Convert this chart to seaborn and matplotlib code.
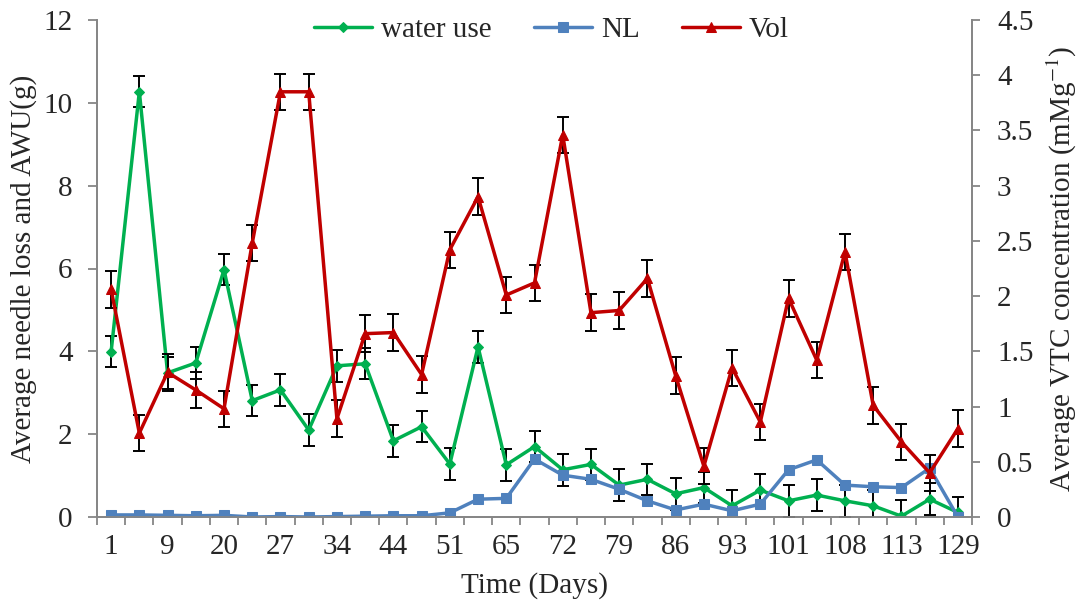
import numpy as np
import pandas as pd
import matplotlib
matplotlib.use("Agg")
import matplotlib.pyplot as plt
from matplotlib.ticker import FixedLocator, FuncFormatter
import seaborn as sns

# sampling days (one label every second sample)
day_labels = ["1", "9", "20", "27", "34", "44", "51", "65", "72", "79",
              "86", "93", "101", "108", "113", "129"]

water_use = [3.99, 10.27, 3.48, 3.72, 5.97, 2.81, 3.07, 2.10, 3.65, 3.70,
             1.84, 2.18, 1.28, 4.11, 1.26, 1.70, 1.14, 1.27, 0.77, 0.91,
             0.56, 0.71, 0.27, 0.65, 0.39, 0.53, 0.39, 0.27, 0.02, 0.43, 0.11]
water_err = [0.38] * 31

nl = [0.05, 0.05, 0.04, 0.03, 0.04, 0.00, 0.01, 0.00, 0.01, 0.02,
      0.03, 0.03, 0.10, 0.43, 0.45, 1.40, 1.01, 0.91, 0.67, 0.39,
      0.17, 0.31, 0.15, 0.31, 1.14, 1.38, 0.77, 0.73, 0.71, 1.18, 0.00]

vol = [2.06, 0.76, 1.31, 1.15, 0.98, 2.48, 3.85, 3.85, 0.89, 1.66,
       1.67, 1.29, 2.42, 2.90, 2.01, 2.12, 3.46, 1.85, 1.87, 2.16,
       1.28, 0.46, 1.35, 0.86, 1.98, 1.42, 2.40, 1.01, 0.68, 0.40, 0.80]
vol_err = [0.165] * 31

GREEN = "#00B050"
BLUE = "#4F81BD"
RED = "#C00000"
GREY = "#868686"

sns.set_style("ticks")
plt.rcParams["font.family"] = ["Liberation Serif", "DejaVu Serif"]
plt.rcParams["mathtext.fontset"] = "stix"
FS = 21

idx = np.arange(len(water_use))
df = pd.DataFrame({"idx": idx, "water use": water_use, "NL": nl, "Vol": vol})

fig = plt.figure(figsize=(10.79, 6.12), dpi=100)
ax = fig.add_axes([97 / 1079, 95 / 612, 875 / 1079, 497 / 612])
ax2 = ax.twinx()

# left axis series
ax.errorbar(idx, water_use, yerr=water_err, fmt="none", ecolor="black",
            elinewidth=1.4, capsize=4.5, capthick=1.4, zorder=3)
sns.lineplot(data=df, x="idx", y="water use", ax=ax, color=GREEN, lw=2.5,
             marker="D", markersize=5, markeredgecolor=GREEN, zorder=4,
             label="water use", legend=False)
sns.lineplot(data=df, x="idx", y="NL", ax=ax, color=BLUE, lw=2.5,
             marker="s", markersize=7, markeredgecolor=BLUE, zorder=5,
             label="NL", legend=False)

# right axis series
ax2.errorbar(idx, vol, yerr=vol_err, fmt="none", ecolor="black",
             elinewidth=1.4, capsize=4.5, capthick=1.4, zorder=3)
sns.lineplot(data=df, x="idx", y="Vol", ax=ax2, color=RED, lw=2.5,
             marker="^", markersize=7, markeredgecolor=RED, zorder=4,
             label="Vol", legend=False)

for a in (ax, ax2):
    a.set_xlim(-0.5, len(idx) - 0.5)
    for s in a.spines.values():
        s.set_color(GREY)
        s.set_linewidth(1.3)
    a.spines["top"].set_visible(False)

ax.set_ylim(0, 12)
ax.set_yticks(np.arange(0, 13, 2))
ax2.set_ylim(0, 4.5)
ax2.set_yticks(np.arange(0, 4.51, 0.5))
ax2.yaxis.set_major_formatter(FuncFormatter(lambda v, p: f"{v:g}"))

ax.set_xticks(idx[::2])
ax.set_xticklabels(day_labels)
ax.xaxis.set_minor_locator(FixedLocator(np.arange(-0.5, len(idx), 1.0)))
ax.tick_params(axis="x", which="major", length=0, pad=12, labelsize=FS)
ax.tick_params(axis="x", which="minor", length=6, width=1.3, color=GREY,
               direction="out")
ax.tick_params(axis="y", length=6.5, width=1.3, color=GREY, pad=11,
               labelsize=FS)
ax2.tick_params(axis="y", length=6, width=1.3, color=GREY, pad=12,
                labelsize=FS)

ax.set_xlabel("Time (Days)", fontsize=FS, labelpad=9)
ax.set_ylabel("Average needle loss and AWU(g)", fontsize=FS, labelpad=5)
ax2.set_ylabel("Average VTC concentration (mMg$^{-1}$)", fontsize=FS,
               labelpad=8)

h = [l for l in ax.get_lines() if l.get_label() in ("water use", "NL")]
h += [l for l in ax2.get_lines() if l.get_label() == "Vol"]
fig.legend(h, [l.get_label() for l in h], loc="upper center",
           bbox_to_anchor=(0.511, 1.015), ncol=3, frameon=False, fontsize=FS,
           handlelength=2.0, handletextpad=0.3, columnspacing=1.45)

fig.savefig("out.png", dpi=100)
